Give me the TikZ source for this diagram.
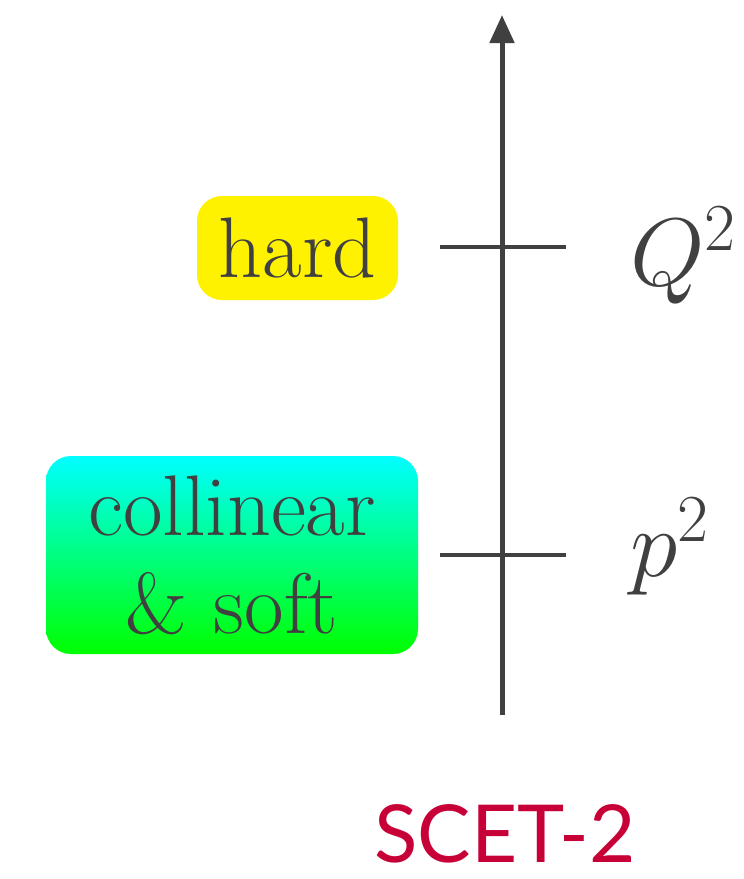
\documentclass[tikz,border=0pt]{standalone}
\usepackage{fix-cm}
\usepackage{fontspec}
\newfontfamily\scetfont{Lato}
\usetikzlibrary{positioning,arrows.meta}
\definecolor{inkgray}{RGB}{64,64,64}
\definecolor{scetred}{RGB}{200,0,56}

\tikzset{
  scalebox/.style={rounded corners=12.5pt, inner sep=0pt, text=inkgray,
    font=\fontsize{43}{49}\selectfont, align=center},
  axisline/.style={draw=inkgray, line width=2.5pt,
    -{Triangle[length=14pt,width=12pt]}},
  tickline/.style={draw=inkgray, line width=2pt},
  scalelabel/.style={text=inkgray, font=\fontsize{48}{58}\selectfont, inner sep=0pt}
}

\begin{document}
\begin{tikzpicture}[x=0.5pt,y=-0.5pt]
\useasboundingbox (0,0) rectangle (744,879);

% boxes
\node[scalebox, fill=yellow, minimum width=100.5pt, minimum height=52pt]
  (hard) at (297.5,248) {hard};
\node[scalebox, top color=cyan, bottom color=green, minimum width=186pt, minimum height=99pt]
  (coll) at (232,555) {collinear\\ \& soft};

% the axis
\coordinate (base) at (502,715);
\coordinate (top) at (502,15);
\draw[axisline] (base) -- (top);

% ticks
\coordinate (qleft) at (440,247);
\coordinate (qright) at (566,247);
\coordinate (pleft) at (440,555);
\coordinate (pright) at (566,555);
\draw[tickline] (qleft) -- (qright);
\draw[tickline] (pleft) -- (pright);

% labels
\node[scalelabel, anchor=base west] (Q) at (630,285) {$Q^2$};
\node[scalelabel, anchor=base west] (p) at (630,576) {$p^2$};

\node[anchor=base, text=scetred, font=\scetfont\fontsize{40}{48}\selectfont, inner sep=0pt]
  (scet) at (505,862) {SCET-2};
\end{tikzpicture}
\end{document}
